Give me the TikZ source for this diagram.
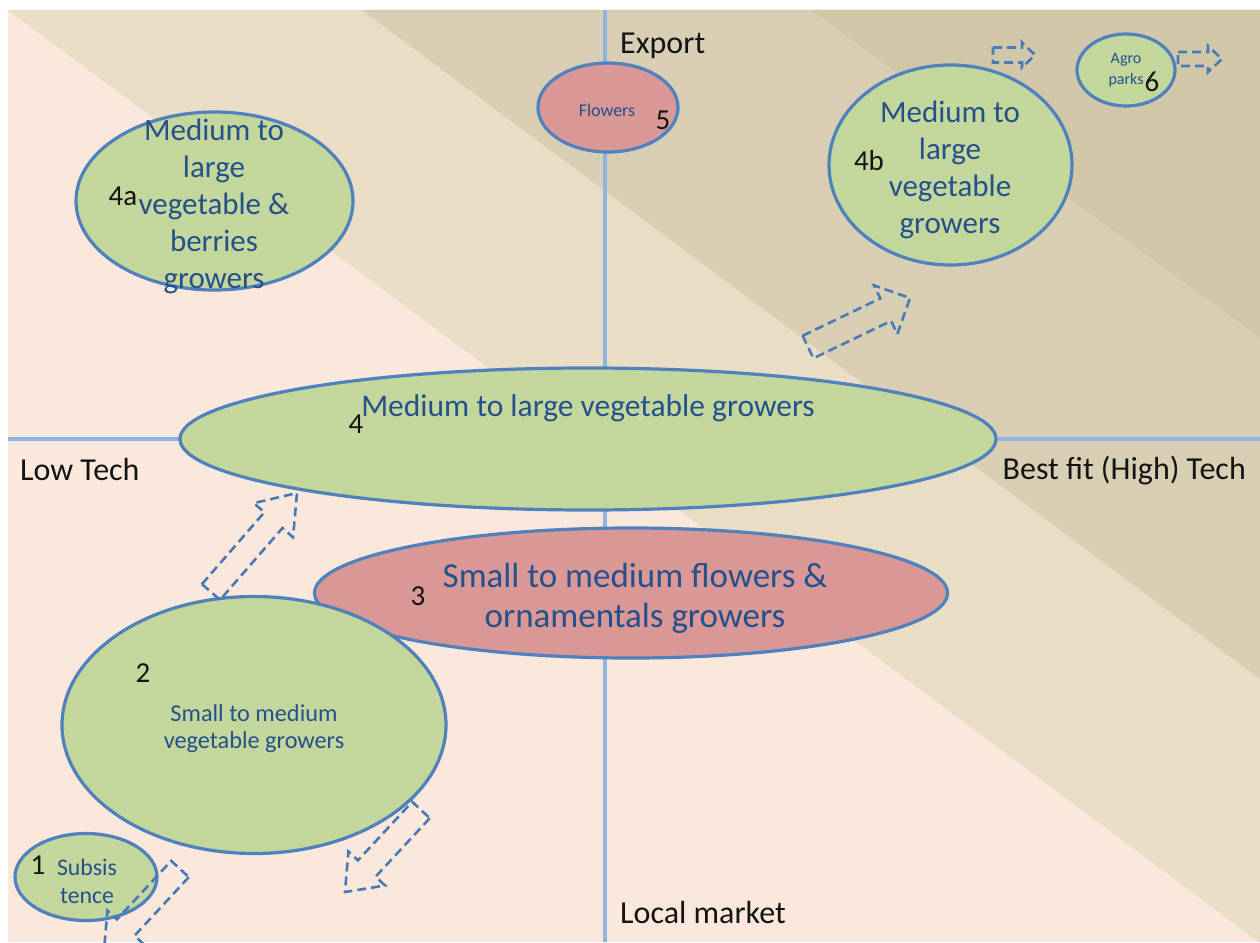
\documentclass[tikz,border=0pt]{standalone}
\usepackage{fontspec}
\setmainfont{Carlito}
\usetikzlibrary{shapes.geometric,calc}
\definecolor{peach}{RGB}{249,232,219}
\definecolor{bandtwo}{RGB}{233,221,198}
\definecolor{bandthree}{RGB}{216,206,179}
\definecolor{bandfour}{RGB}{208,198,168}
\definecolor{axisblue}{RGB}{141,180,226}
\definecolor{edgeblue}{RGB}{79,129,189}
\definecolor{dashblue}{RGB}{74,122,182}
\definecolor{vgreen}{RGB}{195,214,155}
\definecolor{fpink}{RGB}{217,151,149}
\definecolor{tblue}{RGB}{36,80,140}
\definecolor{tblack}{RGB}{20,20,20}
\newcommand\fsz[2]{\fontsize{#1}{#2}\selectfont}
\newcommand\blockarrow[5]{%
  \coordinate (ba-b) at ($(#2)!#5!(#1)$);
  \draw[barrow] ($(#1)!#3!90:(#2)$) -- ($(ba-b)!#3!90:(#2)$) -- ($(ba-b)!#4!90:(#2)$) -- (#2)
     -- ($(ba-b)!#4!-90:(#2)$) -- ($(ba-b)!#3!-90:(#2)$) -- ($(#1)!#3!-90:(#2)$) -- cycle;
}
\begin{document}
\begin{tikzpicture}[x=1pt,y=-1pt,
  ell/.style={ellipse, draw=edgeblue, line width=3.2pt, inner sep=0pt},
  lbl/.style={text=tblue, align=center, inner sep=0pt},
  num/.style={text=tblack, inner sep=0pt, font=\fsz{29}{32}},
  axlbl/.style={text=tblack, inner sep=0pt, font=\fsz{32}{38}},
  axis/.style={draw=axisblue, line width=3.5pt},
  barrow/.style={draw=dashblue, line width=2.6pt, dash pattern=on 9pt off 5pt, line join=miter}]
\useasboundingbox (0,0) rectangle (1260,942);
\fill[white] (0,0) rectangle (1260,942);
\begin{scope}
\clip (8,10) rectangle (1260,942);
\fill[peach] (8,10) rectangle (1260,942);
\fill[bandtwo] (8,10) -- (1408,1053) -- (1408,10) -- cycle;
\fill[bandthree] (362,10) -- (1762,1053) -- (1762,10) -- cycle;
\fill[bandfour] (811,10) -- (2211,1032) -- (2211,10) -- cycle;
% axes
\coordinate (axT) at (605,10); \coordinate (axB) at (605,942);
\coordinate (axL) at (8,439); \coordinate (axR) at (1260,439);
\draw[axis] (axT) -- (axB);
\draw[axis] (axL) -- (axR);
% ellipses
\node[ell, fill=vgreen, minimum width=277pt, minimum height=178pt] (e4a) at (214.5,201) {};
\node[ell, fill=fpink, minimum width=140pt, minimum height=89pt] (e5) at (608,107.5) {};
\node[ell, fill=vgreen, minimum width=243pt, minimum height=200pt] (e4b) at (950.5,165) {};
\node[ell, fill=vgreen, minimum width=98pt, minimum height=72pt] (e6) at (1126,70) {};
\node[ell, fill=vgreen, minimum width=816pt, minimum height=142pt] (e4) at (588,439) {};
\node[ell, fill=fpink, minimum width=633pt, minimum height=130pt] (e3) at (631,593) {};
\node[ell, fill=vgreen, minimum width=384pt, minimum height=257pt] (e2) at (254,725) {};
\node[ell, fill=vgreen, minimum width=142pt, minimum height=87pt] (e1) at (86,877) {};
% texts
\node[lbl, font=\fsz{31}{37}] (t4a) at (214,206) {Medium to\\large\\vegetable \&\\berries\\growers};
\node[lbl, font=\fsz{18}{22}] (t5) at (607,110) {Flowers};
\node[lbl, font=\fsz{31}{37}] (t4b) at (950,170) {Medium to\\large\\vegetable\\growers};
\node[lbl, font=\fsz{16}{21}] (t6) at (1126,70) {Agro\\parks};
\node[lbl, font=\fsz{31.5}{37}] (t4) at (588,408) {Medium to large vegetable growers};
\node[lbl, font=\fsz{35}{40}] (t3) at (635,598) {Small to medium flowers \&\\ornamentals growers};
\node[lbl, font=\fsz{24.3}{27}] (t2) at (254,729) {Small to medium\\vegetable growers};
\node[lbl, font=\fsz{23.8}{28}] (t1) at (87,881) {Subsis\\tence};
% numbers
\node[num] (n4a) at (123,196) {4a};
\node[num] (n4b) at (869,161) {4b};
\node[num] (n4) at (356,424) {4};
\node[num] (n5) at (663,120) {5};
\node[num] (n6) at (1152,82) {6};
\node[num] (n3) at (418,596) {3};
\node[num] (n2) at (143,673) {2};
\node[num] (n1) at (38,865) {1};
% axis labels
\node[axlbl, anchor=west] (lexp) at (620,46) {Export};
\node[axlbl, anchor=west] (llow) at (20,469) {Low Tech};
\node[axlbl, anchor=east] (lhigh) at (1246,471) {Best fit (High) Tech};
\node[axlbl, anchor=west] (lloc) at (620,912) {Local market};
% block arrows
\coordinate (aA1) at (211,592); \coordinate (aA2) at (297,493);
\blockarrow{aA1}{aA2}{12pt}{26pt}{36pt}
\coordinate (aB1) at (421,810); \coordinate (aB2) at (345,892);
\blockarrow{aB1}{aB2}{12pt}{25pt}{32pt}
\coordinate (aC1) at (180,869); \coordinate (aC2) at (104,951);
\blockarrow{aC1}{aC2}{12pt}{25pt}{32pt}
\coordinate (aD1) at (808,347); \coordinate (aD2) at (910,298);
\blockarrow{aD1}{aD2}{12.5pt}{27pt}{27pt}
\coordinate (aE1) at (993,55); \coordinate (aE2) at (1035,55);
\blockarrow{aE1}{aE2}{7.5pt}{12.5pt}{13pt}
\coordinate (aF1) at (1178,59); \coordinate (aF2) at (1222,59);
\blockarrow{aF1}{aF2}{7pt}{13pt}{14pt}
\end{scope}
\end{tikzpicture}
\end{document}
